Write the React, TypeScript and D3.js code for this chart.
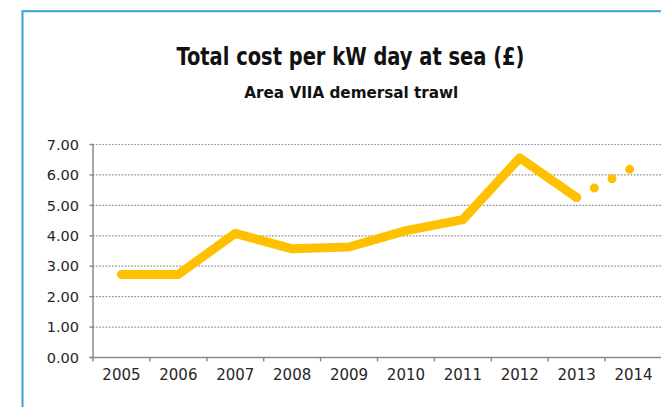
import React from "react";
import * as d3 from "d3";

const years: string[] = ["2005", "2006", "2007", "2008", "2009", "2010", "2011", "2012", "2013", "2014"];
const actualYears: string[] = ["2005", "2006", "2007", "2008", "2009", "2010", "2011", "2012", "2013"];
const actualValues: number[] = [2.73, 2.73, 4.08, 3.57, 3.63, 4.17, 4.53, 6.56, 5.26];
const projectedYears: string[] = ["2013", "2014"];
const projectedValues: number[] = [5.26, 6.25];
const yTicks: number[] = [0, 1, 2, 3, 4, 5, 6, 7];
const title = "Total cost per kW day at sea (£)";
const subtitle = "Area VIIA demersal trawl";

export default function App() {
  const W = 661;
  const H = 407;
  const left = 93;
  const right = 662;
  const top = 144.5;
  const bottom = 357.5;

  const x = d3.scaleBand<string>().domain(years).range([left, right]).padding(0);
  const y = d3.scaleLinear().domain([0, 7]).range([bottom, top]);
  const cx = (yr: string) => (x(yr) as number) + x.bandwidth() / 2;

  const line = d3
    .line<[string, number]>()
    .x((d) => cx(d[0]))
    .y((d) => y(d[1]));

  const actual = actualYears.map((yr, i) => [yr, actualValues[i]] as [string, number]);
  const projected = projectedYears.map((yr, i) => [yr, projectedValues[i]] as [string, number]);

  const axisColor = "#8a8a8a";
  const textColor = "#262626";
  const lineColor = "#FFC000";
  const tickFont = "'DejaVu Sans', Verdana, sans-serif";
  const titleFont = "'Liberation Sans Narrow', 'DejaVu Sans Condensed', Roboto, sans-serif";

  const boundaries = years.map((yr) => x(yr) as number).concat([right]);

  return (
    <svg
      width={W}
      height={H}
      style={{ position: "absolute", left: 0, top: 0, background: "#fff" }}
    >
      <rect x={0} y={0} width={W} height={H} fill="#ffffff" />
      <rect x={22.5} y={11.2} width={720} height={430} fill="none" stroke="#35a4cb" strokeWidth={2} />

      <text
        x={350.5}
        y={65}
        textAnchor="middle"
        fontFamily={titleFont}
        fontWeight="bold"
        fontSize={25}
        fill="#111"
        textLength={348}
        lengthAdjust="spacingAndGlyphs"
      >
        {title}
      </text>
      <text
        x={351.3}
        y={98}
        textAnchor="middle"
        fontFamily={titleFont}
        fontWeight="bold"
        fontSize={16}
        fill="#111"
        textLength={214}
        lengthAdjust="spacingAndGlyphs"
      >
        {subtitle}
      </text>

      {/* gridlines */}
      {yTicks
        .filter((t) => t > 0)
        .map((t) => (
          <line
            key={"g" + t}
            x1={left}
            x2={right}
            y1={y(t)}
            y2={y(t)}
            stroke="#8c8c8c"
            strokeWidth={1.2}
            strokeDasharray="1.6 1.6"
          />
        ))}

      {/* y axis */}
      <line x1={left} x2={left} y1={top} y2={bottom} stroke={axisColor} strokeWidth={1.5} />
      {yTicks.map((t) => (
        <g key={"yt" + t}>
          <line x1={left - 3.5} x2={left} y1={y(t)} y2={y(t)} stroke={axisColor} strokeWidth={1.5} />
          <text
            x={79}
            y={y(t)}
            dy="0.36em"
            textAnchor="end"
            fontFamily={tickFont}
            fontSize={14.5}
            fill={textColor}
          >
            {t.toFixed(2)}
          </text>
        </g>
      ))}

      {/* x axis */}
      <line x1={left - 3.5} x2={right} y1={bottom} y2={bottom} stroke={axisColor} strokeWidth={1.5} />
      {boundaries.map((b, i) => (
        <line key={"xt" + i} x1={b} x2={b} y1={bottom} y2={bottom + 4} stroke={axisColor} strokeWidth={1.5} />
      ))}
      {years.map((yr) => (
        <text
          key={"xl" + yr}
          x={cx(yr)}
          y={379.5}
          textAnchor="middle"
          fontFamily={tickFont}
          fontSize={15}
          fill={textColor}
        >
          {yr}
        </text>
      ))}

      {/* series */}
      <path
        d={line(actual) || ""}
        fill="none"
        stroke={lineColor}
        strokeWidth={9}
        strokeLinecap="round"
        strokeLinejoin="round"
      />
      <path
        d={line(projected) || ""}
        fill="none"
        stroke={lineColor}
        strokeWidth={9}
        strokeLinecap="round"
        strokeDasharray="0 20"
      />
    </svg>
  );
}
